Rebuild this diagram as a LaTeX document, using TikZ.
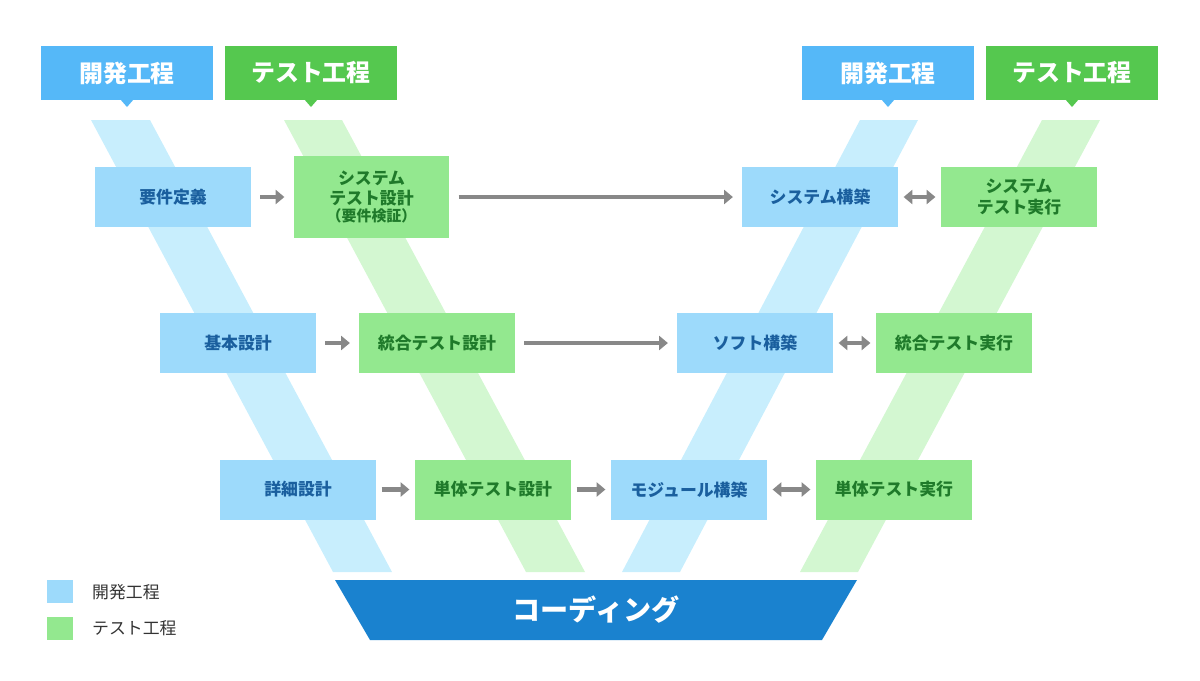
\documentclass[tikz,border=0pt]{standalone}
\usepackage{fontspec}
\setmainfont{Noto Sans CJK JP}
\usetikzlibrary{arrows.meta}
\definecolor{hblue}{HTML}{55B8F8}
\definecolor{hgreen}{HTML}{55C84F}
\definecolor{bblue}{HTML}{9DDAFB}
\definecolor{bgreen}{HTML}{93E88F}
\definecolor{sblue}{HTML}{C8EEFD}
\definecolor{sgreen}{HTML}{D3F7D1}
\definecolor{tblue}{HTML}{1A5F9E}
\definecolor{tgreen}{HTML}{1F7A2A}
\definecolor{cblue}{HTML}{1A82CF}
\definecolor{agray}{HTML}{888888}
\begin{document}
\begin{tikzpicture}[x=0.02cm,y=-0.02cm,
  bbox/.style={fill=bblue,text=tblue,font=\fontsize{9.6}{11.5}\selectfont\bfseries,align=center,minimum width=3.12cm,minimum height=1.2cm,inner sep=0pt},
  gbox/.style={bbox,fill=bgreen,text=tgreen},
  hdr/.style={text=white,font=\fontsize{13.6}{16}\selectfont\bfseries,minimum width=3.44cm,minimum height=1.08cm,inner sep=0pt},
  arr/.style={draw=agray,line width=2.6pt,-{Triangle[length=5pt,width=8pt]}},
  darr/.style={draw=agray,line width=2.6pt,{Triangle[length=5pt,width=8pt]}-{Triangle[length=5pt,width=8pt]}}]
\useasboundingbox (0,0) rectangle (1200,680);
% stripes
\fill[sblue] (91,120)--(150,120)--(392,572)--(333,572)--cycle;
\fill[sgreen] (284,120)--(342,120)--(585,572)--(526,572)--cycle;
\fill[sblue] (860,120)--(918,120)--(680,572)--(622,572)--cycle;
\fill[sgreen] (1042,120)--(1100,120)--(858,572)--(800,572)--cycle;
% headers
\foreach \x/\c/\t/\n in {127/hblue/開発工程/h1,311/hgreen/テスト工程/h2,888/hblue/開発工程/h3,1072/hgreen/テスト工程/h4}{
  \node[hdr,fill=\c] (\n) at (\x,73) {\t};
  \fill[\c] (\x-7,99)--(\x+7,99)--(\x,107)--cycle;
}
% boxes
\node[bbox] (a1) at (173,197) {要件定義};
\node[gbox,minimum height=1.64cm] (b1) at (371.5,197) {システム\\テスト設計\\[-2pt]{\fontsize{8.5}{10}\selectfont（要件検証）}};
\node[bbox] (c1) at (820,197) {システム構築};
\node[gbox] (d1) at (1019,197) {システム\\テスト実行};
\node[bbox] (a2) at (238,343) {基本設計};
\node[gbox] (b2) at (437,343) {統合テスト設計};
\node[bbox] (c2) at (755,343) {ソフト構築};
\node[gbox] (d2) at (954,343) {統合テスト実行};
\node[bbox] (a3) at (298,489.5) {詳細設計};
\node[gbox] (b3) at (493,489.5) {単体テスト設計};
\node[bbox] (c3) at (689,489.5) {モジュール構築};
\node[gbox] (d3) at (894,489.5) {単体テスト実行};
% arrows
\draw[arr] ([xshift=5pt]a1.east) -- ([xshift=-5pt]a1.east-|b1.west);
\draw[arr] ([xshift=5pt]b1.east) -- ([xshift=-5pt]c1.west);
\draw[darr] ([xshift=3pt]c1.east) -- ([xshift=-3pt]d1.west);
\draw[arr] ([xshift=5pt]a2.east) -- ([xshift=-5pt]b2.west);
\draw[arr] ([xshift=5pt]b2.east) -- ([xshift=-5pt]c2.west);
\draw[darr] ([xshift=3pt]c2.east) -- ([xshift=-3pt]d2.west);
\draw[arr] ([xshift=3pt]a3.east) -- ([xshift=-3pt]b3.west);
\draw[arr] ([xshift=3pt]b3.east) -- ([xshift=-3pt]c3.west);
\draw[darr] ([xshift=3pt]c3.east) -- ([xshift=-3pt]d3.west);
% coding
\fill[cblue] (335,580)--(857,580)--(822,640)--(370,640)--cycle;
\node[text=white,font=\fontsize{16}{19}\selectfont\bfseries] (cod) at (596,610) {コーディング};
% legend
\fill[bblue] (47,580) rectangle (73,603);
\node[anchor=west,font=\fontsize{9.6}{11.5}\selectfont,text=black!80] (l1) at (86,592) {開発工程};
\fill[bgreen] (47,617) rectangle (73,640);
\node[anchor=west,font=\fontsize{9.6}{11.5}\selectfont,text=black!80] (l2) at (86,628) {テスト工程};
\end{tikzpicture}
\end{document}
